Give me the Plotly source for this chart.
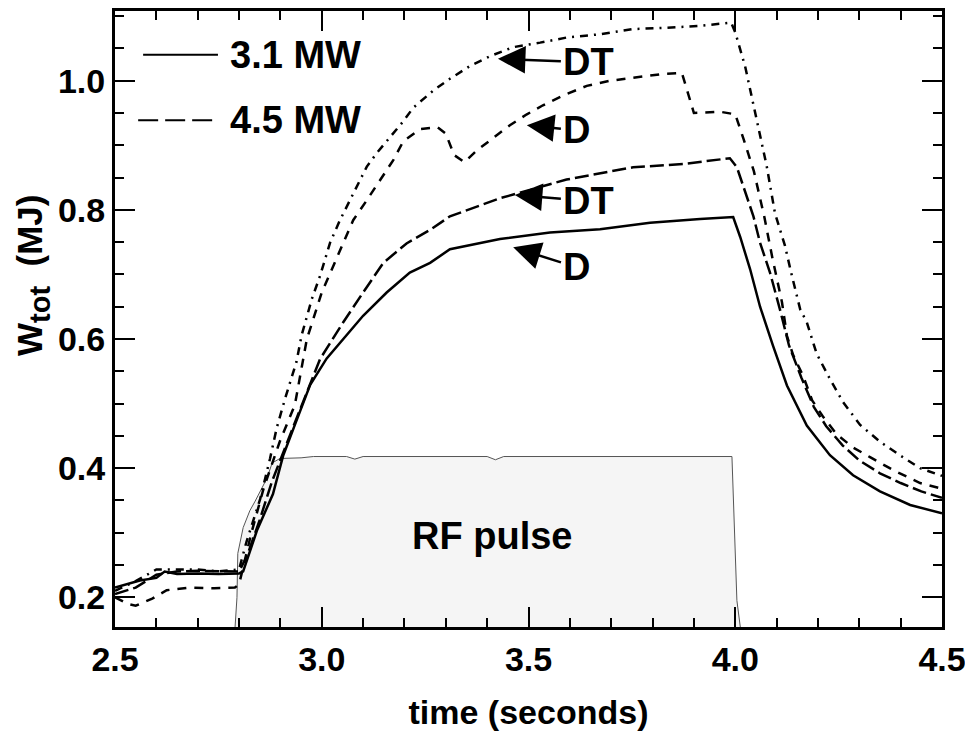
import plotly.graph_objects as go

# ---- data ----
d31_x = [2.50, 2.53, 2.56, 2.60, 2.62, 2.65, 2.70, 2.75, 2.80, 2.81, 2.843, 2.882, 2.907, 2.935, 2.972,
         3.012, 3.052, 3.100, 3.157, 3.213, 3.262, 3.310, 3.431, 3.552, 3.673, 3.794, 3.915, 3.995,
         4.012, 4.036, 4.060, 4.091, 4.125, 4.173, 4.229, 4.285, 4.350, 4.423, 4.50]
d31_y = [0.215, 0.220, 0.226, 0.230, 0.240, 0.236, 0.237, 0.236, 0.237, 0.240, 0.303, 0.360, 0.420, 0.467, 0.529,
         0.570, 0.600, 0.636, 0.672, 0.703, 0.718, 0.739, 0.755, 0.765, 0.770, 0.780, 0.786, 0.789,
         0.758, 0.708, 0.650, 0.590, 0.528, 0.466, 0.420, 0.389, 0.364, 0.343, 0.330]

dt31_x = [2.50, 2.55, 2.60, 2.65, 2.70, 2.75, 2.80, 2.82, 2.85, 2.88, 2.91, 2.939, 2.996, 3.052, 3.100,
          3.149, 3.205, 3.262, 3.310, 3.431, 3.592, 3.753, 3.874, 3.987, 4.004, 4.012, 4.028, 4.044,
          4.060, 4.084, 4.108, 4.13, 4.16, 4.19, 4.22, 4.26, 4.30, 4.35, 4.40, 4.45, 4.50]
dt31_y = [0.205, 0.215, 0.235, 0.240, 0.241, 0.240, 0.240, 0.265, 0.320, 0.380, 0.430, 0.477, 0.569, 0.626, 0.672,
          0.718, 0.748, 0.769, 0.790, 0.818, 0.847, 0.866, 0.871, 0.880, 0.866, 0.851, 0.820, 0.790,
          0.749, 0.703, 0.646, 0.590, 0.540, 0.495, 0.465, 0.435, 0.412, 0.392, 0.377, 0.364, 0.354]

d45_x = [2.50, 2.53, 2.55, 2.59, 2.625, 2.68, 2.74, 2.79, 2.80, 2.83, 2.86, 2.899, 2.935, 2.964, 3.000,
         3.028, 3.056, 3.076, 3.109, 3.141, 3.173, 3.197, 3.238, 3.280, 3.300, 3.320, 3.345, 3.375,
         3.414, 3.455, 3.496, 3.535, 3.583, 3.641, 3.697, 3.753, 3.818, 3.871, 3.885, 3.900, 3.963,
         4.000, 4.020, 4.045, 4.070, 4.090, 4.113, 4.125, 4.140, 4.164, 4.186, 4.212, 4.246, 4.285,
         4.326, 4.382, 4.447, 4.500]
d45_y = [0.200, 0.190, 0.187, 0.198, 0.211, 0.215, 0.214, 0.215, 0.220, 0.300, 0.370, 0.442, 0.498, 0.600, 0.672,
         0.713, 0.754, 0.784, 0.815, 0.846, 0.877, 0.906, 0.925, 0.928, 0.918, 0.885, 0.874, 0.892,
         0.911, 0.931, 0.948, 0.962, 0.977, 0.992, 1.000, 1.005, 1.010, 1.012, 0.983, 0.950, 0.952,
         0.948, 0.910, 0.860, 0.790, 0.725, 0.657, 0.605, 0.575, 0.543, 0.505, 0.480, 0.452, 0.432,
         0.417, 0.397, 0.377, 0.368]

dt45_x = [2.50, 2.55, 2.60, 2.65, 2.70, 2.75, 2.80, 2.818, 2.851, 2.875, 2.891, 2.911, 2.939, 2.951, 2.976,
          2.996, 3.020, 3.044, 3.068, 3.085, 3.109, 3.133, 3.197, 3.221, 3.270, 3.310, 3.359, 3.407,
          3.463, 3.528, 3.593, 3.673, 3.753, 3.835, 3.915, 3.990, 4.000, 4.024, 4.052, 4.076, 4.096,
          4.120, 4.137, 4.157, 4.173, 4.197, 4.229, 4.261, 4.302, 4.350, 4.398, 4.447, 4.500]
dt45_y = [0.210, 0.225, 0.243, 0.243, 0.243, 0.240, 0.243, 0.286, 0.352, 0.415, 0.462, 0.507, 0.565, 0.605, 0.662,
          0.698, 0.749, 0.784, 0.815, 0.836, 0.867, 0.888, 0.937, 0.958, 0.985, 1.003, 1.023, 1.038,
          1.052, 1.059, 1.067, 1.072, 1.080, 1.082, 1.085, 1.090, 1.075, 1.022, 0.937, 0.868, 0.795,
          0.745, 0.698, 0.646, 0.626, 0.577, 0.538, 0.502, 0.467, 0.441, 0.420, 0.400, 0.388]

rf_x = [2.79, 2.795, 2.797, 2.810, 2.826, 2.839, 2.868, 2.880, 2.899, 2.95, 2.98, 3.00, 3.06, 3.08,
        3.10, 3.40, 3.42, 3.44, 3.992, 4.004, 4.013]
rf_y = [0.150, 0.200, 0.268, 0.308, 0.334, 0.349, 0.385, 0.408, 0.415, 0.416, 0.418, 0.418, 0.418, 0.414,
        0.418, 0.418, 0.413, 0.418, 0.418, 0.195, 0.150]

x_ticks = [2.5, 3.0, 3.5, 4.0, 4.5]
y_ticks = [0.2, 0.4, 0.6, 0.8, 1.0]

legend_labels = ["3.1 MW", "4.5 MW"]
curve_labels = ["DT", "D", "DT", "D"]
label_pos = [(3.646, 1.0285), (3.617, 0.923), (3.646, 0.814), (3.617, 0.711)]
arrow_heads = [(3.426, 1.034), (3.496, 0.931), (3.467, 0.823), (3.463, 0.742)]

FONT = "Liberation Sans, Arial, sans-serif"

fig = go.Figure()

fig.add_trace(go.Scatter(x=rf_x, y=rf_y, mode="lines", fill="toself",
                         fillcolor="#f5f5f5", line=dict(color="#555555", width=1),
                         showlegend=False, hoverinfo="skip"))

fig.add_trace(go.Scatter(x=d31_x, y=d31_y, mode="lines",
                         line=dict(color="black", width=2.5), showlegend=False))
fig.add_trace(go.Scatter(x=dt31_x, y=dt31_y, mode="lines",
                         line=dict(color="black", width=2.5, dash="14px,5px"), showlegend=False))
fig.add_trace(go.Scatter(x=d45_x, y=d45_y, mode="lines",
                         line=dict(color="black", width=2.5, dash="9px,8px"), showlegend=False))
fig.add_trace(go.Scatter(x=dt45_x, y=dt45_y, mode="lines",
                         line=dict(color="black", width=2.5, dash="8px,6px,2px,6px"), showlegend=False))

axis_common = dict(
    showline=True, linecolor="black", linewidth=3, mirror="ticks",
    ticks="inside", ticklen=20, tickwidth=2, tickcolor="black",
    showgrid=False, zeroline=False, tickformat=".1f",
    tickfont=dict(family=FONT, size=34, color="black", weight="bold"),
)

fig.update_xaxes(range=[2.5, 4.5], tickvals=x_ticks,
                 minor=dict(dtick=0.1, tick0=2.5, ticks="inside", ticklen=9, tickwidth=2, tickcolor="black"),
                 title=dict(text="time (seconds)", font=dict(family=FONT, size=34, color="black", weight="bold"),
                            standoff=24),
                 **axis_common)
fig.update_yaxes(range=[0.154, 1.108], tickvals=y_ticks,
                 minor=dict(dtick=0.05, tick0=0.2, ticks="inside", ticklen=9, tickwidth=2, tickcolor="black"),
                 **axis_common)

# y axis title
fig.add_annotation(x=-0.099, y=0.57, xref="paper", yref="paper",
                   text="W<sub><span style='font-size:29px'>tot</span></sub>  (MJ)",
                   textangle=-90, showarrow=False, xanchor="center", yanchor="middle",
                   font=dict(family=FONT, size=35, color="black", weight="bold"))

# legend drawn as line samples + text
fig.add_shape(type="line", xref="paper", yref="paper", x0=0.034, x1=0.1245, y0=0.929, y1=0.929,
              line=dict(color="black", width=2))
fig.add_shape(type="line", xref="paper", yref="paper", x0=0.028, x1=0.118, y0=0.8226, y1=0.8226,
              line=dict(color="black", width=2, dash="20px,7px"))
for lab, yp in zip(legend_labels, [0.929, 0.8226]):
    fig.add_annotation(x=0.1366, y=yp, xref="paper", yref="paper", text=lab, showarrow=False,
                       xanchor="left", yanchor="middle",
                       font=dict(family=FONT, size=38, color="black", weight="bold"))

# curve labels with arrows pointing to the curves
for lab, (lx, ly), (hx, hy) in zip(curve_labels, label_pos, arrow_heads):
    fig.add_annotation(x=hx, y=hy, ax=lx, ay=ly, xref="x", yref="y", axref="x", ayref="y",
                       text=lab, showarrow=True, arrowhead=2, arrowsize=2.2, arrowwidth=2.5,
                       arrowcolor="black", standoff=0, startstandoff=2, borderpad=0,
                       font=dict(family=FONT, size=38, color="black", weight="bold"))

fig.add_annotation(x=3.412, y=0.295, xref="x", yref="y", text="RF pulse", showarrow=False,
                   font=dict(family=FONT, size=38, color="black", weight="bold"))

# the page body adds an 8px offset; size the figure so the plot lands where the reference has it
fig.update_layout(width=965, height=728, margin=dict(l=107, r=31, t=0, b=109),
                  paper_bgcolor="white", plot_bgcolor="white", showlegend=False)

fig.write_html("out.html")
